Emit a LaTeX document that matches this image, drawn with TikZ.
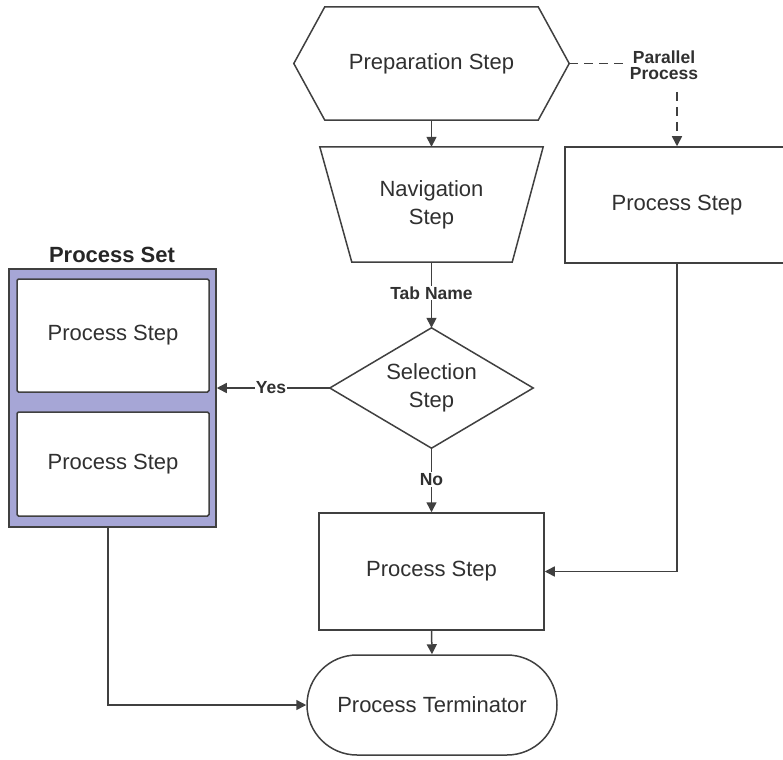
\documentclass[tikz,border=0pt]{standalone}
\usepackage{fontspec}
\setmainfont{Liberation Sans}
\usetikzlibrary{arrows.meta,calc}
\definecolor{ln}{HTML}{404040}
\definecolor{tx}{HTML}{303030}
\definecolor{setfill}{HTML}{A6A6D6}
\begin{document}
\begin{tikzpicture}[x=1pt,y=-1pt,
  shp/.style={draw=none,inner sep=0pt,align=center,text=tx,font=\fontsize{22}{28}\selectfont},
  boxed/.style={shp,draw=ln,line width=1.5pt,fill=white},
  lbl/.style={inner sep=1pt,align=center,text=tx,fill=white,font=\fontsize{17.5}{19}\selectfont\bfseries},
  conn/.style={draw=ln,line width=1.5pt},
  arr/.style={conn,-{Triangle[length=10pt,width=10pt]}},
  outl/.style={draw=ln,line width=1.5pt,fill=white}
]
\clip (0,0) rectangle (783,759);
\useasboundingbox (0,0) rectangle (783,759);

% Preparation (hexagon)
\node[shp,minimum width=275,minimum height=113] (prep) at (431.5,63.5) {};
\draw[outl] ([xshift=31]prep.north west) -- ([xshift=-31]prep.north east) -- (prep.east)
  -- ([xshift=-31]prep.south east) -- ([xshift=31]prep.south west) -- (prep.west) -- cycle;
\node[shp] at (prep) {Preparation Step};

% Navigation (trapezoid)
\node[shp,minimum width=223,minimum height=115] (nav) at (431.5,204.5) {};
\draw[outl] (nav.north west) -- (nav.north east) -- ([xshift=-31]nav.south east)
  -- ([xshift=32]nav.south west) -- cycle;
\node[shp] at (nav) {Navigation\\Step};

% Selection (diamond)
\node[shp,minimum width=203,minimum height=120] (sel) at (431.5,388) {};
\draw[outl] (sel.north) -- (sel.east) -- (sel.south) -- (sel.west) -- cycle;
\node[shp] at (sel) {Selection\\Step};

% Process steps
\node[boxed,minimum width=225,minimum height=117] (mid) at (431.5,571.5) {Process Step};
\node[boxed,minimum width=224,minimum height=116] (rgt) at (677,205) {Process Step};

% Terminator
\node[boxed,rounded corners=50pt,minimum width=250,minimum height=100] (term) at (432,705) {Process Terminator};

% Process set
\node[shp,draw=ln,line width=1.5pt,fill=setfill,minimum width=207,minimum height=258] (set) at (112.5,398) {};
\node[boxed,rounded corners=1.5pt,minimum width=192,minimum height=113] (s1) at (113,335.5) {Process Step};
\node[boxed,rounded corners=1.5pt,minimum width=192,minimum height=104] (s2) at (113,464) {Process Step};
\node[inner sep=0pt,text=black!85,font=\fontsize{22}{26}\selectfont\bfseries] (settitle) at (112,255) {Process Set};

% Connectors
\draw[arr] (prep.south) -- (nav.north);
\draw[arr] (nav.south) -- node[lbl,pos=0.47] {Tab Name} (sel.north);
\draw[arr] (sel.west) -- node[lbl,pos=0.52] {Yes} (sel.west -| set.east);
\draw[arr] (sel.south) -- node[lbl,pos=0.49] {No} (mid.north);
\draw[arr] (mid.south) -- (term.north);
\draw[arr] ([xshift=-4.5]set.south) |- (term.west);
\draw[arr] (rgt.south) |- (mid.east);

% Parallel process (dashed)
\node[lbl,fill=none,font=\fontsize{17.5}{16}\selectfont\bfseries] (pp) at (664,65) {Parallel\\Process};
\coordinate (ppd) at (677,92);
\draw[conn,dash pattern=on 9pt off 6pt] (prep.east) -- (prep.east -| pp.west);
\draw[arr,dash pattern=on 9pt off 6pt] (ppd) -- (rgt.north);
\end{tikzpicture}
\end{document}
